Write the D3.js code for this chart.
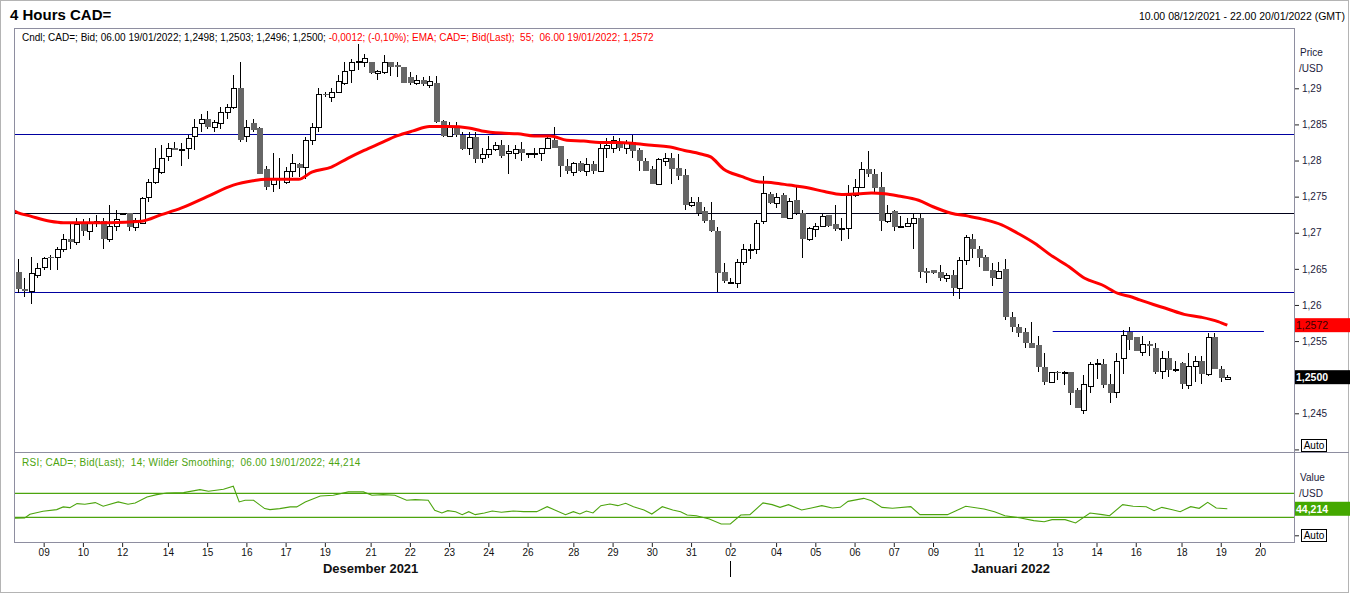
<!DOCTYPE html>
<html>
<head>
<meta charset="utf-8">
<script src="https://cdn.jsdelivr.net/npm/d3@7"></script>
<style>
body{margin:0;background:#fff;}
svg{display:block;font-family:"Liberation Sans",Arial,sans-serif;}
</style>
</head>
<body>
<svg id="chart" width="1352" height="596"></svg>
<script>
// 4h candles, index 0 = 10.00 08/12/2021 (Fri 22.00 and Sun 22.00 slots included)
var open = [1.2645,1.2622,1.2620,1.2642,1.2652,1.2667,1.2666,1.2677,1.2691,1.2687,1.2713,1.2702,1.2713,1.2716,1.2691,1.2710,1.2727,1.2727,1.2708,1.2713,
  1.2749,1.2770,1.2784,1.2806,1.2817,1.2816,1.2818,1.2834,1.2852,1.2858,1.2846,1.2852,1.2867,1.2874,1.2901,1.2834,1.2852,1.2845,1.2788,1.2767,
  1.2775,1.2770,1.2786,1.2795,1.2791,1.2829,1.2846,1.2892,1.2888,1.2895,1.2908,1.2925,1.2937,1.2937,1.2936,1.2921,1.2922,1.2936,1.2932,1.2929,
  1.2915,1.2907,1.2912,1.2904,1.2908,1.2855,1.2834,1.2846,1.2836,1.2817,1.2832,1.2803,1.2809,1.2816,1.2822,1.2810,1.2811,1.2816,1.2810,1.2809,
  1.2811,1.2817,1.2829,1.2820,1.2793,1.2784,1.2797,1.2785,1.2795,1.2785,1.2818,1.2818,1.2825,1.2818,1.2825,1.2815,1.2800,1.2788,1.2768,1.2799,
  1.2804,1.2789,1.2780,1.2739,1.2743,1.2730,1.2717,1.2703,1.2645,1.2632,1.2630,1.2659,1.2678,1.2678,1.2716,1.2753,1.2741,1.2752,1.2721,1.2745,
  1.2728,1.2692,1.2705,1.2709,1.2724,1.2712,1.2706,1.2706,1.2752,1.2763,1.2788,1.2782,1.2764,1.2716,1.2730,1.2708,1.2709,1.2713,1.2721,1.2647,
  1.2648,1.2645,1.2637,1.2642,1.2623,1.2662,1.2692,1.2678,1.2666,1.2648,1.2638,1.2650,1.2583,1.2570,1.2562,1.2548,1.2545,1.2514,1.2493,1.2507,
  1.2507,1.2507,1.2482,1.2454,1.2488,1.2519,1.2518,1.2490,1.2479,1.2526,1.2562,1.2555,1.2535,1.2546,1.2540,1.2508,1.2526,1.2511,1.2520,1.2489,
  1.2515,1.2523,1.2505,1.2555,1.2512,1.2498];
var high = [1.2663,1.2638,1.2666,1.2658,1.2667,1.2669,1.2680,1.2698,1.2713,1.2720,1.2719,1.2720,1.2724,1.2720,1.2738,1.2731,1.2728,1.2728,1.2721,1.2750,
  1.2774,1.2818,1.2821,1.2824,1.2825,1.2824,1.2835,1.2858,1.2865,1.2868,1.2856,1.2874,1.2878,1.2919,1.2936,1.2856,1.2857,1.2846,1.2793,1.2810,
  1.2804,1.2791,1.2809,1.2796,1.2832,1.2852,1.2901,1.2895,1.2901,1.2918,1.2937,1.2940,1.2961,1.2948,1.2937,1.2926,1.2946,1.2937,1.2937,1.2929,
  1.2922,1.2918,1.2915,1.2917,1.2917,1.2856,1.2853,1.2853,1.2839,1.2839,1.2839,1.2817,1.2834,1.2825,1.2829,1.2821,1.2821,1.2825,1.2810,1.2817,
  1.2818,1.2832,1.2847,1.2820,1.2802,1.2798,1.2799,1.2803,1.2800,1.2825,1.2831,1.2834,1.2831,1.2829,1.2836,1.2818,1.2804,1.2793,1.2804,1.2811,
  1.2810,1.2809,1.2788,1.2749,1.2750,1.2735,1.2742,1.2708,1.2658,1.2638,1.2663,1.2685,1.2685,1.2717,1.2779,1.2756,1.2755,1.2755,1.2748,1.2763,
  1.2731,1.2708,1.2713,1.2726,1.2724,1.2739,1.2720,1.2766,1.2774,1.2798,1.2813,1.2788,1.2784,1.2739,1.2731,1.2723,1.2721,1.2728,1.2727,1.2651,
  1.2649,1.2656,1.2644,1.2649,1.2666,1.2697,1.2698,1.2681,1.2669,1.2658,1.2659,1.2663,1.2590,1.2573,1.2568,1.2576,1.2557,1.2533,1.2507,1.2508,
  1.2508,1.2507,1.2485,1.2503,1.2521,1.2525,1.2525,1.2504,1.2534,1.2565,1.2569,1.2555,1.2557,1.2550,1.2547,1.2536,1.2536,1.2523,1.2521,1.2533,
  1.2529,1.2529,1.2561,1.2561,1.2515,1.2503];
var low = [1.2616,1.2611,1.2602,1.2637,1.2648,1.2649,1.2649,1.2673,1.2678,1.2683,1.2696,1.2690,1.2708,1.2678,1.2687,1.2703,1.2726,1.2702,1.2703,1.2712,
  1.2743,1.2768,1.2781,1.2799,1.2814,1.2793,1.2802,1.2814,1.2840,1.2843,1.2839,1.2843,1.2858,1.2871,1.2825,1.2825,1.2840,1.2781,1.2759,1.2757,
  1.2760,1.2768,1.2777,1.2777,1.2775,1.2821,1.2839,1.2888,1.2881,1.2893,1.2904,1.2907,1.2926,1.2929,1.2920,1.2912,1.2920,1.2917,1.2915,1.2908,
  1.2904,1.2904,1.2903,1.2901,1.2852,1.2832,1.2832,1.2832,1.2814,1.2807,1.2796,1.2796,1.2803,1.2813,1.2803,1.2782,1.2802,1.2800,1.2804,1.2804,
  1.2800,1.2816,1.2818,1.2777,1.2782,1.2778,1.2784,1.2778,1.2781,1.2784,1.2804,1.2810,1.2813,1.2809,1.2803,1.2785,1.2785,1.2768,1.2768,1.2793,
  1.2768,1.2773,1.2732,1.2735,1.2723,1.2713,1.2701,1.2618,1.2630,1.2630,1.2624,1.2656,1.2663,1.2671,1.2712,1.2740,1.2734,1.2720,1.2720,1.2724,
  1.2665,1.2688,1.2694,1.2708,1.2708,1.2702,1.2688,1.2692,1.2749,1.2763,1.2777,1.2757,1.2703,1.2713,1.2703,1.2706,1.2708,1.2678,1.2638,1.2630,
  1.2643,1.2633,1.2632,1.2612,1.2608,1.2656,1.2665,1.2653,1.2647,1.2626,1.2637,1.2579,1.2562,1.2555,1.2540,1.2541,1.2507,1.2489,1.2492,1.2496,
  1.2489,1.2461,1.2457,1.2449,1.2478,1.2498,1.2485,1.2464,1.2471,1.2505,1.2537,1.2536,1.2530,1.2530,1.2505,1.2497,1.2500,1.2507,1.2484,1.2484,
  1.2493,1.2491,1.2502,1.2511,1.2493,1.2496];
var close = [1.2622,1.2620,1.2644,1.2651,1.2665,1.2666,1.2678,1.2692,1.2687,1.2712,1.2702,1.2714,1.2716,1.2691,1.2709,1.2719,1.2727,1.2708,1.2717,1.2748,
  1.2770,1.2789,1.2804,1.2817,1.2815,1.2816,1.2831,1.2846,1.2857,1.2847,1.2853,1.2867,1.2874,1.2901,1.2828,1.2846,1.2842,1.2782,1.2764,1.2775,
  1.2774,1.2786,1.2796,1.2789,1.2829,1.2846,1.2892,1.2891,1.2895,1.2910,1.2924,1.2936,1.2938,1.2942,1.2921,1.2924,1.2936,1.2930,1.2930,1.2908,
  1.2908,1.2912,1.2906,1.2910,1.2853,1.2834,1.2846,1.2836,1.2816,1.2832,1.2802,1.2809,1.2816,1.2822,1.2806,1.2813,1.2816,1.2810,1.2810,1.2811,
  1.2817,1.2831,1.2818,1.2792,1.2785,1.2796,1.2785,1.2795,1.2785,1.2818,1.2822,1.2829,1.2818,1.2825,1.2813,1.2800,1.2786,1.2768,1.2802,1.2804,
  1.2788,1.2778,1.2738,1.2742,1.2728,1.2716,1.2702,1.2644,1.2633,1.2632,1.2659,1.2678,1.2678,1.2714,1.2755,1.2741,1.2750,1.2720,1.2744,1.2727,
  1.2691,1.2706,1.2710,1.2723,1.2709,1.2705,1.2706,1.2752,1.2764,1.2788,1.2781,1.2762,1.2716,1.2727,1.2708,1.2710,1.2713,1.2721,1.2645,1.2644,
  1.2644,1.2637,1.2642,1.2623,1.2662,1.2694,1.2678,1.2665,1.2647,1.2638,1.2647,1.2584,1.2569,1.2561,1.2548,1.2541,1.2514,1.2493,1.2507,1.2506,
  1.2507,1.2478,1.2458,1.2491,1.2518,1.2519,1.2489,1.2478,1.2523,1.2559,1.2552,1.2536,1.2546,1.2543,1.2507,1.2526,1.2510,1.2511,1.2490,1.2515,
  1.2522,1.2505,1.2555,1.2512,1.2499,1.2500];

// EMA 55
var emaIdx = [-0.5,0,2,5,7,14,19,22,25,29,33,36,38,43,45,48,50.5,53,55.5,58,60.5,63,66,69,71,74,76.5,79,81.5,84,86.6,89,91.8,94,97,99.5,102,104.5,
  106,108,110.7,113,115.7,118,121,123.4,126,128.6,130.6,132.6,134.7,137.8,140,142.8,145.4,148,150.5,153,155.6,158,160.8,163.2,165.8,168.3,170.4,171.6,176,178.4,181,183.6,185];
var emaVal = [1.2730,1.2728,1.2723,1.2716,1.2714,1.2714,1.2716,1.2725,1.2734,1.2750,1.2766,1.2772,1.2774,1.2774,1.2784,1.2791,1.2803,1.2814,1.2824,1.2834,1.2841,1.2847,1.2847,1.2845,1.2841,1.2838,1.2837,1.2834,1.2834,1.2828,1.2827,1.2825,1.2825,1.2824,1.2821,1.2819,1.2814,1.2809,
  1.2805,1.2788,1.2778,1.2771,1.2769,1.2766,1.2762,1.2757,1.2753,1.2754,1.2755,1.2754,1.2751,1.2745,1.2736,1.2727,1.2723,1.2718,1.2711,1.2699,1.2685,1.2669,1.2653,1.2637,1.2628,1.2616,1.2611,1.2607,1.2594,1.2587,1.2583,1.2577,1.2572];

// RSI 14
var rsiIdx = [-0.4,1.1,1.9,3.9,6,7,8,9.1,10.3,11.9,13.1,15.4,16.9,18,19.8,21.3,22.8,25.4,27.9,29.2,31.5,33,33.9,34.8,36.1,37.8,38.6,40.1,41.7,42.7,44,46.3,48.3,50.6,52.9,54.2,55.9,57.7,59.5,60.8,62.8,63.8,64.9,65.8,67,68,69,70,71.4,72.6,74,75.8,77.4,79.4,81,83.8,85,86,87,88,89.2,90.6,91.8,93,94.2,95.8,97,98.6,100.2,101.4,102.4,103.8,105.8,107.6,109,110.6,112,114,115.4,116.6,117.9,119.9,121.4,123,124.6,125.8,127,129.4,130.6,132.2,133.8,136.6,138,142.2,145,147.8,149.4,151,153.4,155.4,157,158.2,160.2,161.8,164,165.9,167,169,170.6,172.6,173.8,175,176.6,177.8,179.4,180.7,182,183.3,185];
var rsiVal = [28.4,28.9,35,40,42.8,47.3,46.1,52.8,51.7,54.5,48.4,55.6,51.7,53.9,63.9,67.8,70.6,71.1,76.1,73.4,76.7,81.7,55.6,58.4,58.4,44.5,42.8,44.5,47.3,47.3,55.6,65.6,66.7,72.3,72.3,66.7,67.8,66.7,58.4,59.5,58.4,41.7,37.2,41.1,39.4,34.4,39.4,34.4,37.2,40.5,38.3,40.5,39.4,39.4,47.7,34.4,39.4,35.5,40.5,37.2,49.4,52.2,49.4,53.3,47.7,42.2,35.5,47.7,42.2,39.4,33.9,32.7,27.2,18.9,18.9,33.9,34.4,53.9,51.1,46.6,51.1,42.2,45.5,49.4,45.5,46.6,56.6,61.6,57.7,46.6,45,47.7,34.4,34.4,48.3,43.9,39.4,32.7,28.9,24.4,22.7,26.1,26.1,20.5,37.2,34.4,32.7,51.1,48.3,47.7,41.1,46.6,42.7,39.4,47.7,45,55,45.5,44.214];

var levels = [1.2837, 1.2727, 1.2618];
var shortLevel = 1.2564, shortFrom = 158.3, shortTo = 190.6;
var priceTicks = [1.24,1.245,1.25,1.255,1.26,1.265,1.27,1.275,1.28,1.285,1.29];
var rsiLevels = [70, 30];

var dayIdx = [4,10,16,23,29,35,41,47,54,60,66,72,78,85,91,97,103,109,116,122,128,134,140,147,153,159,165,171,178,184,190];
var dayLabels = ["09","10","12","14","15","16","17","19","21","22","23","24","26","28","29","30","31","02","04","05","06","07","09","11","12","13","14","16","18","19","20"];
var months = ["Desember 2021","Januari 2022"];
var monthStart = [-0.5, 108.5], monthEnd = [108.5, 195.2];

var L = 14, R = 1294, mainTop = 28, mainBot = 452, rsiBot = 542;
var svg = d3.select("#chart");

var x = d3.scaleLinear().domain([0,190]).range([17.5,1260]);
var y = d3.scaleLinear().domain([1.245,1.29]).range([413.3,88.3]);
var yr = d3.scaleLinear().domain([30,70]).range([517.3,493.3]);
var comma = function(s){ return s.replace(".", ","); };

// outer frame
svg.append("rect").attr("x",0.5).attr("y",0.5).attr("width",1348).attr("height",592)
  .attr("fill","none").attr("stroke","#b4b4b4");

var defs = svg.append("defs");
defs.append("clipPath").attr("id","clipMain").append("rect")
  .attr("x",L).attr("y",mainTop).attr("width",R-L).attr("height",mainBot-mainTop);
defs.append("clipPath").attr("id","clipRsi").append("rect")
  .attr("x",L).attr("y",mainBot).attr("width",R-L).attr("height",rsiBot-mainBot);

// title and range
svg.append("text").attr("x",10).attr("y",20).attr("font-size",15).attr("font-weight","bold")
  .attr("fill","#000").text("4 Hours CAD=");
svg.append("text").attr("x",1345).attr("y",20).attr("font-size",10.5).attr("text-anchor","end")
  .attr("fill","#000").text("10.00 08/12/2021 - 22.00 20/01/2022 (GMT)");

// main panel
var gm = svg.append("g").attr("clip-path","url(#clipMain)");

gm.selectAll("line.level").data(levels).enter().append("line")
  .attr("x1",L).attr("x2",R)
  .attr("y1",function(d){ return Math.round(y(d))+0.5; })
  .attr("y2",function(d){ return Math.round(y(d))+0.5; })
  .attr("stroke",function(d,i){ return i == 1 ? "#000018" : "#0000a0"; }).attr("stroke-width",1.2);
gm.append("line")
  .attr("x1",x(shortFrom)).attr("x2",x(shortTo))
  .attr("y1",Math.round(y(shortLevel))+0.5).attr("y2",Math.round(y(shortLevel))+0.5)
  .attr("stroke","#0000b4").attr("stroke-width",1.2);

var idx = d3.range(open.length);
var cg = gm.append("g").attr("shape-rendering","crispEdges");
cg.selectAll("line.wick").data(idx).enter().append("line")
  .attr("x1",function(i){ return Math.round(x(i))+0.5; })
  .attr("x2",function(i){ return Math.round(x(i))+0.5; })
  .attr("y1",function(i){ return y(high[i]); })
  .attr("y2",function(i){ return y(low[i]); })
  .attr("stroke","#000").attr("stroke-width",1);
cg.selectAll("rect.body").data(idx).enter().append("rect")
  .attr("x",function(i){ return Math.round(x(i))-2; })
  .attr("y",function(i){ return Math.round(y(Math.max(open[i],close[i]))); })
  .attr("width",function(i){ return close[i] >= open[i] ? 5 : 6; })
  .attr("height",function(i){ return Math.max(1, Math.round(y(Math.min(open[i],close[i]))) - Math.round(y(Math.max(open[i],close[i])))); })
  .attr("fill",function(i){ return close[i] >= open[i] ? "#fff" : "#666"; })
  .attr("stroke",function(i){ return close[i] >= open[i] ? "#000" : "none"; })
  .attr("stroke-width",1);

var emaLine = d3.line()
  .x(function(d,i){ return x(emaIdx[i]); })
  .y(function(d){ return y(d); })
  .curve(d3.curveMonotoneX);
gm.append("path").datum(emaVal).attr("d",emaLine)
  .attr("fill","none").attr("stroke","#ff0000").attr("stroke-width",3);

// legend main
var t1 = svg.append("text").attr("x",22).attr("y",41).attr("font-size",10);
t1.append("tspan").attr("fill","#000").text("Cndl; CAD=; Bid; 06.00 19/01/2022; 1,2498; 1,2503; 1,2496; 1,2500; ");
t1.append("tspan").attr("fill","#ff0000").text("-0,0012; (-0,10%); EMA; CAD=; Bid(Last);\u00a0 55;\u00a0 06.00 19/01/2022; 1,2572");

// rsi panel
var gr = svg.append("g").attr("clip-path","url(#clipRsi)");
gr.selectAll("line.rl").data(rsiLevels).enter().append("line")
  .attr("x1",L).attr("x2",R)
  .attr("y1",function(d){ return yr(d); }).attr("y2",function(d){ return yr(d); })
  .attr("stroke","#4ca40e").attr("stroke-width",1.3);
var rsiLine = d3.line()
  .x(function(d,i){ return x(rsiIdx[i]); })
  .y(function(d){ return yr(d); });
gr.append("path").datum(rsiVal).attr("d",rsiLine)
  .attr("fill","none").attr("stroke","#4ca40e").attr("stroke-width",1.1);
svg.append("text").attr("x",22).attr("y",466).attr("font-size",10).attr("letter-spacing",0.25).attr("fill","#4ca40e")
  .text("RSI; CAD=; Bid(Last);\u00a0 14; Wilder Smoothing;\u00a0 06.00 19/01/2022; 44,214");

// panel frames
svg.append("rect").attr("x",L+0.5).attr("y",mainTop+0.5).attr("width",R-L).attr("height",rsiBot-mainTop)
  .attr("fill","none").attr("stroke","#8e8ea0");
svg.append("line").attr("x1",L).attr("x2",1349).attr("y1",mainBot+0.5).attr("y2",mainBot+0.5)
  .attr("stroke","#8e8ea0");

// price axis (1,24 and 1,25 sit behind the Auto / last-price boxes)
var yAxis = d3.axisRight(y).tickValues(priceTicks).tickSize(4).tickPadding(3)
  .tickFormat(function(d){ return (d < 1.2425 || Math.abs(d - 1.25) < 1e-6) ? "" : comma(d3.format("~g")(d)); });
var ga = svg.append("g").attr("transform","translate("+(R+1)+",0)").call(yAxis);
ga.select(".domain").remove();
ga.selectAll("text").attr("font-size",10).attr("font-family","Liberation Sans, Arial, sans-serif").attr("fill","#1c1c3c");
ga.selectAll("line").attr("stroke","#222");

var rAxis = d3.axisRight(yr).tickValues([0]).tickSize(4).tickFormat("");
var gra = svg.append("g").attr("transform","translate("+(R+1)+",0)").call(rAxis);
gra.select(".domain").remove();
gra.selectAll("line").attr("stroke","#222");

svg.append("text").attr("x",1300).attr("y",56).attr("font-size",10).attr("fill","#1c1c3c").text("Price");
svg.append("text").attr("x",1299).attr("y",72).attr("font-size",10).attr("fill","#1c1c3c").text("/USD");
svg.append("text").attr("x",1300).attr("y",481).attr("font-size",10).attr("fill","#1c1c3c").text("Value");
svg.append("text").attr("x",1299).attr("y",497).attr("font-size",10).attr("fill","#1c1c3c").text("/USD");

function autoBox(yTop){
  svg.append("rect").attr("x",1301.5).attr("y",yTop+0.5).attr("width",25).attr("height",12)
    .attr("fill","#fff").attr("stroke","#000");
  svg.append("text").attr("x",1314).attr("y",yTop+10).attr("font-size",10).attr("text-anchor","middle")
    .attr("fill","#000").text("Auto");
}
autoBox(439);
autoBox(529);

function valueBox(yc, bg, fg, txt, bold){
  svg.append("rect").attr("x",1295).attr("y",yc-7).attr("width",55).attr("height",14).attr("fill",bg);
  svg.append("text").attr("x",1296).attr("y",yc+4).attr("font-size",10.5)
    .attr("font-weight",bold ? "bold" : "normal").attr("fill",fg).text(txt);
}
valueBox(y(emaVal[emaVal.length-1]), "#ff0000", "#3a0000", comma(d3.format(".4f")(emaVal[emaVal.length-1])), false);
valueBox(y(close[close.length-1]), "#000", "#fff", comma(d3.format(".4f")(close[close.length-1])), true);
valueBox(yr(rsiVal[rsiVal.length-1]), "#44a800", "#fff", comma(d3.format(".3f")(rsiVal[rsiVal.length-1])), true);

// time axis
var xAxis = d3.axisBottom(x).tickValues(dayIdx).tickSize(4).tickPadding(2)
  .tickFormat(function(d,i){ return dayLabels[i]; });
var gx = svg.append("g").attr("transform","translate(0,"+(rsiBot+1)+")").call(xAxis);
gx.select(".domain").remove();
gx.selectAll("text").attr("font-size",10).attr("font-family","Liberation Sans, Arial, sans-serif").attr("fill","#111");
gx.selectAll("line").attr("stroke","#222");

svg.selectAll("text.month").data(months).enter().append("text")
  .attr("x",function(d,i){ return (x(monthStart[i]) + x(monthEnd[i]))/2; })
  .attr("y",573).attr("font-size",13).attr("font-weight","bold").attr("text-anchor","middle")
  .attr("fill","#111").text(function(d){ return d; });
svg.append("line").attr("x1",Math.round(x(monthStart[1]+0.5))+0.5).attr("x2",Math.round(x(monthStart[1]+0.5))+0.5)
  .attr("y1",561).attr("y2",577).attr("stroke","#000");
</script>
</body>
</html>
